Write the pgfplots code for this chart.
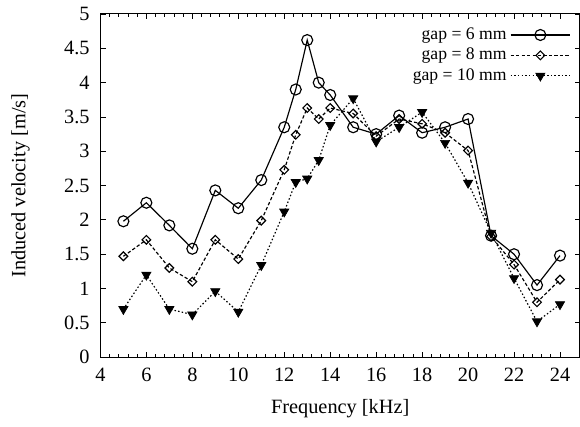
\documentclass[border=0pt]{standalone}
\usepackage{pgfplots}
\pgfplotsset{compat=1.18}
\usepackage{fontspec}
\setmainfont{Liberation Serif}
\begin{document}
\begin{tikzpicture}
\begin{axis}[
  name=ax,
  scale only axis,
  width=288pt, height=206.1pt,
  xmin=4, xmax=24.87, ymin=0, ymax=5,
  xtick={4,6,...,24}, ytick={0,0.5,...,5},
  minor x tick num=4,
  tick align=inside, tick pos=both,
  major tick length=3.2pt, minor tick length=1.8pt,
  every tick/.style={black, line width=0.5pt},
  axis line style={line width=0.6pt},
  /pgf/number format/assume math mode=true,
  font=\fontsize{12.2}{14}\selectfont,
  ticklabel style={font=\fontsize{12.2}{14}\selectfont},
  xticklabel style={yshift=-3pt},
  yticklabel style={xshift=-3pt},
  xlabel={Frequency [kHz]},
  ylabel={Induced velocity [m/s]},
  xlabel style={at={(rel axis cs:0.5,0)}, anchor=center, yshift=-31pt},
  ylabel style={at={(rel axis cs:0,0.5)}, anchor=center, yshift=48pt},
  legend plot pos=right,
  legend style={draw=none, fill=none, at={(rel axis cs:0.985,0.975)}, anchor=north east,
    font=\fontsize{10.6}{12}\selectfont, row sep=-0.3pt, inner sep=1pt},
  legend cell align=right,
  legend image code/.code={
    \draw[mark repeat=2,mark phase=2,#1] plot coordinates {(0cm,0cm) (0.63cm,0cm) (1.26cm,0cm)};
  },
]
\addplot[black, line width=0.7pt, mark=o, mark size=3.3pt, mark options={solid, line width=0.7pt}]
coordinates {
(5,1.98) (6,2.25) (7,1.92) (8,1.58) (9,2.43) (10,2.17) (11,2.58) (12,3.35) (12.5,3.90) (13,4.62) (13.5,4.00) (14,3.82) (15,3.35) (16,3.25) (17,3.52) (18,3.27) (19,3.35) (20,3.47) (21,1.77) (22,1.50) (23,1.05) (24,1.48)
};
\addlegendentry{gap = 6 mm}
\addplot[black, line width=0.7pt, dash pattern=on 2pt off 1.3pt, mark=square, mark size=1.85pt, mark options={solid, rotate=45, line width=0.7pt}]
coordinates {
(5,1.47) (6,1.71) (7,1.30) (8,1.10) (9,1.71) (10,1.43) (11,1.99) (12,2.73) (12.5,3.24) (13,3.63) (13.5,3.47) (14,3.63) (15,3.55) (16,3.22) (17,3.47) (18,3.40) (19,3.27) (20,3.01) (21,1.76) (22,1.35) (23,0.80) (24,1.13)
};
\addlegendentry{gap = 8 mm}
\addplot[black, line width=0.7pt, dash pattern=on 0.9pt off 1.3pt, mark=triangle*, mark size=3.2pt, mark options={solid, rotate=180, line width=0.4pt}]
coordinates {
(5,0.70) (6,1.20) (7,0.70) (8,0.62) (9,0.96) (10,0.66) (11,1.34) (12,2.12) (12.5,2.55) (13,2.60) (13.5,2.87) (14,3.38) (15,3.77) (16,3.14) (17,3.35) (18,3.57) (19,3.12) (20,2.54) (21,1.81) (22,1.15) (23,0.52) (24,0.77)
};
\addlegendentry{gap = 10 mm}
\end{axis}
\pgfresetboundingbox
\path[use as bounding box] ([xshift=-60.3pt,yshift=-41.7pt]ax.south west) rectangle ([yshift=8.4pt]ax.north east);
\end{tikzpicture}
\end{document}
